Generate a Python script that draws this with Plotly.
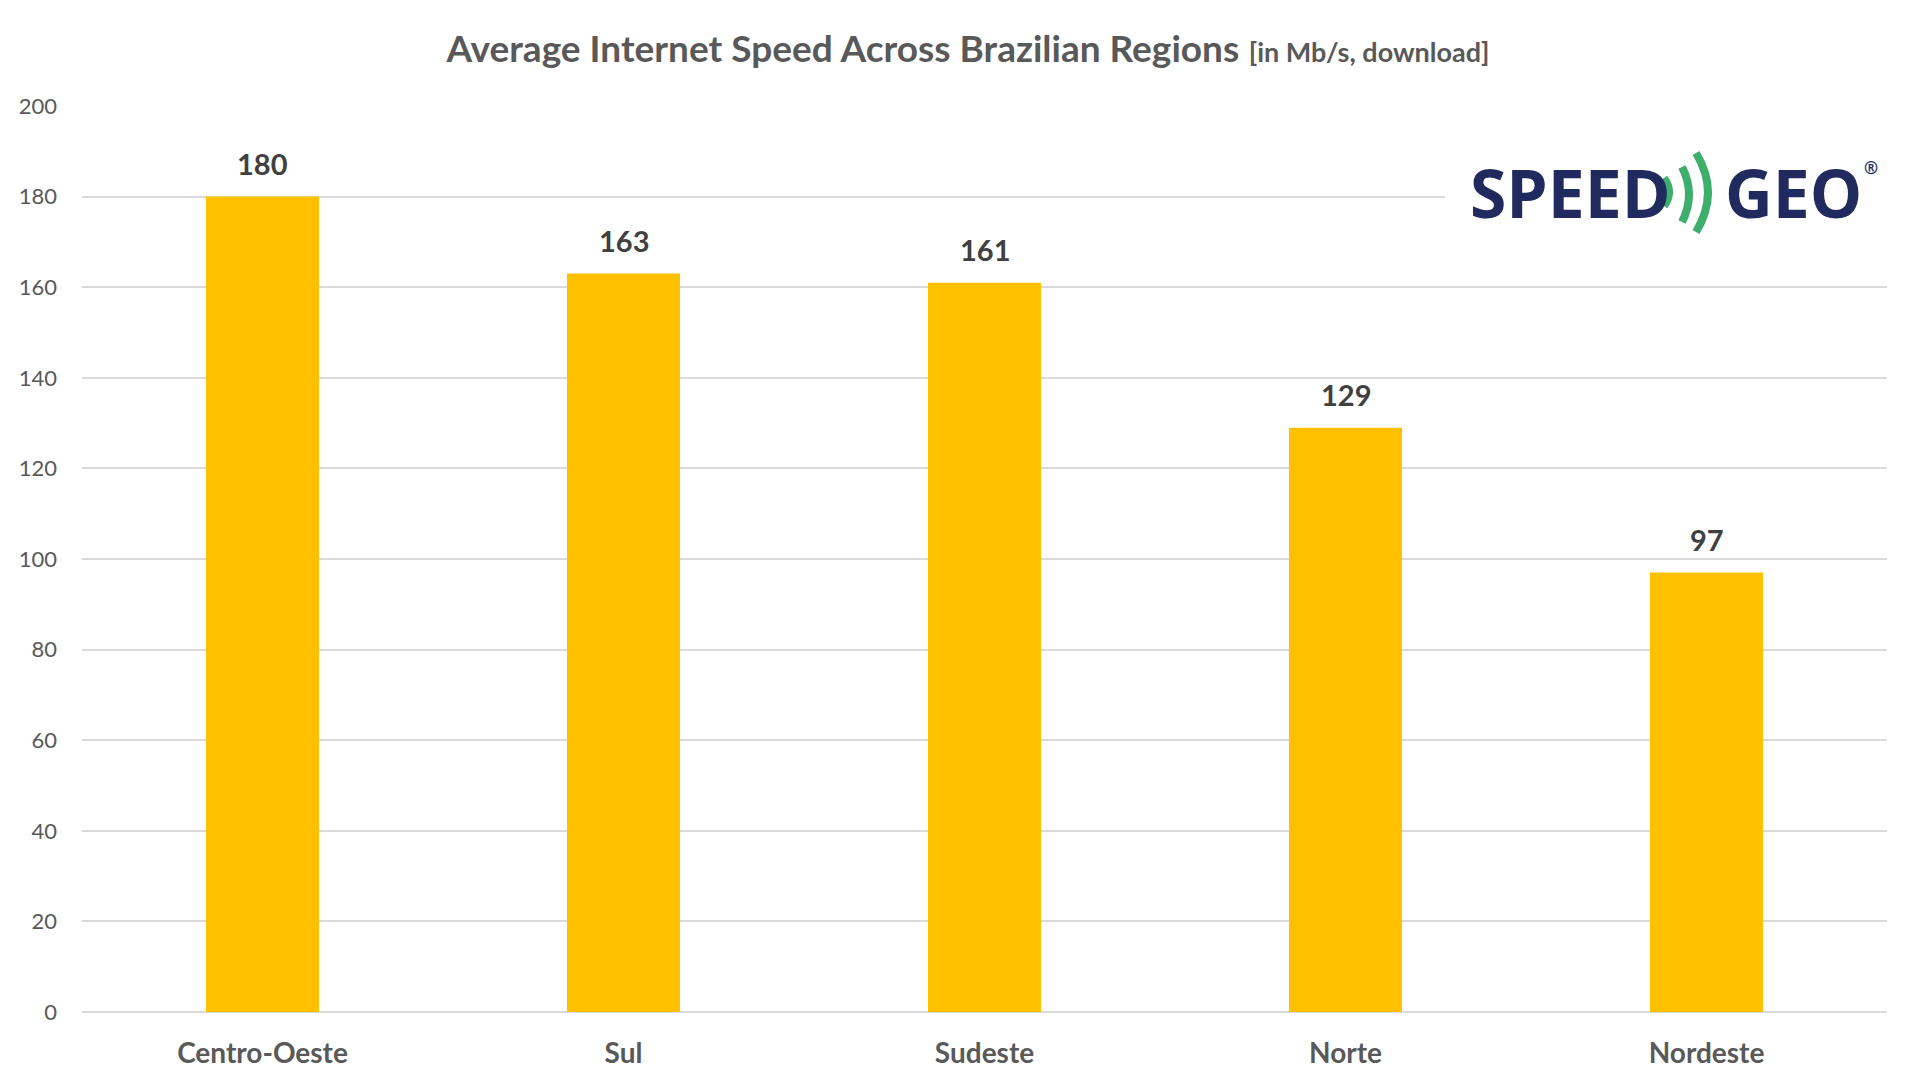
import plotly.graph_objects as go

regions = ["Centro-Oeste", "Sul", "Sudeste", "Norte", "Nordeste"]
speeds = [180, 163, 161, 129, 97]
y_ticks = [0, 20, 40, 60, 80, 100, 120, 140, 160, 180, 200]

W, H = 1920, 1090
OFF = 8  # page body margin, the figure lands 8px right/down
L, R, T, B = 82 - OFF, 33 + OFF, 106 - OFF, 78 + OFF


def px_x(x):
    # screen pixel -> paper coords
    return (x - OFF - L) / (W - L - R)


def px_y(y):
    return (H - B - (y - OFF)) / (H - T - B)


fig = go.Figure()
fig.add_trace(go.Bar(x=regions, y=speeds, width=0.313,
                     marker=dict(color="#FFC000", line=dict(width=0)),
                     hoverinfo="x+y"))

# value labels above the bars
for reg, val in zip(regions, speeds):
    fig.add_annotation(x=reg, y=val, text=str(val), showarrow=False,
                       yanchor="bottom", yshift=14,
                       font=dict(family="Lato", size=29, color="#404040", weight="bold"))

# logo: white patch over the gridline, words and signal arcs
fig.add_shape(type="rect", xref="paper", yref="paper", layer="above",
              x0=px_x(1445), x1=px_x(1935), y0=px_y(240), y1=px_y(145),
              fillcolor="white", line=dict(width=0))
fig.add_annotation(xref="paper", yref="paper", x=px_x(1468), y=px_y(192),
                   xanchor="left", yanchor="middle", showarrow=False, text="SPEED",
                   font=dict(family="Open Sans", size=66, color="#202A5E", weight="bold"))
fig.add_annotation(xref="paper", yref="paper", x=px_x(1864), y=px_y(192),
                   xanchor="right", yanchor="middle", showarrow=False, text="GEO",
                   font=dict(family="Open Sans", size=66, color="#202A5E", weight="bold"))
fig.add_annotation(xref="paper", yref="paper", x=px_x(1880), y=px_y(154),
                   showarrow=False, text="®",
                   font=dict(family="Open Sans", size=17, color="#202A5E", weight="bold"))

arcs = [(1664, 178, 1674, 206), (1682, 167, 1696, 222), (1696, 153, 1720, 232)]
for x0, ytop, cx, ybot in arcs:
    path = "M {:.5f},{:.5f} Q {:.5f},{:.5f} {:.5f},{:.5f}".format(
        px_x(x0), px_y(ytop), px_x(cx), px_y((ytop + ybot) / 2), px_x(x0), px_y(ybot))
    fig.add_shape(type="path", xref="paper", yref="paper", path=path, layer="above",
                  line=dict(color="#3DAE6B", width=8))

fig.update_layout(
    width=W, height=H,
    margin=dict(l=L, r=R, t=T, b=B),
    paper_bgcolor="white", plot_bgcolor="white",
    showlegend=False,
    title=dict(
        text="<b>Average Internet Speed Across Brazilian Regions</b> "
             "<span style='font-size:27px'><b>[in Mb/s, download]</b></span>",
        x=0.5, xanchor="center", y=1 - (49 - OFF) / H, yanchor="middle",
        font=dict(family="Lato", size=37, color="#595959")),
    font=dict(family="Lato", color="#595959"),
)
fig.update_xaxes(showgrid=False, showline=False, zeroline=False,
                 ticks="", ticklabelstandoff=22,
                 tickfont=dict(family="Lato", size=28, color="#595959", weight="bold"))
fig.update_yaxes(range=[0, 200], tickvals=y_ticks, showgrid=True,
                 gridcolor="#D9D9D9", gridwidth=1.5, zeroline=True,
                 zerolinecolor="#D9D9D9", zerolinewidth=1.5, showline=False,
                 ticks="", ticklabelstandoff=24,
                 tickfont=dict(family="Lato", size=22, color="#595959"))

fig.write_html("out.html")
